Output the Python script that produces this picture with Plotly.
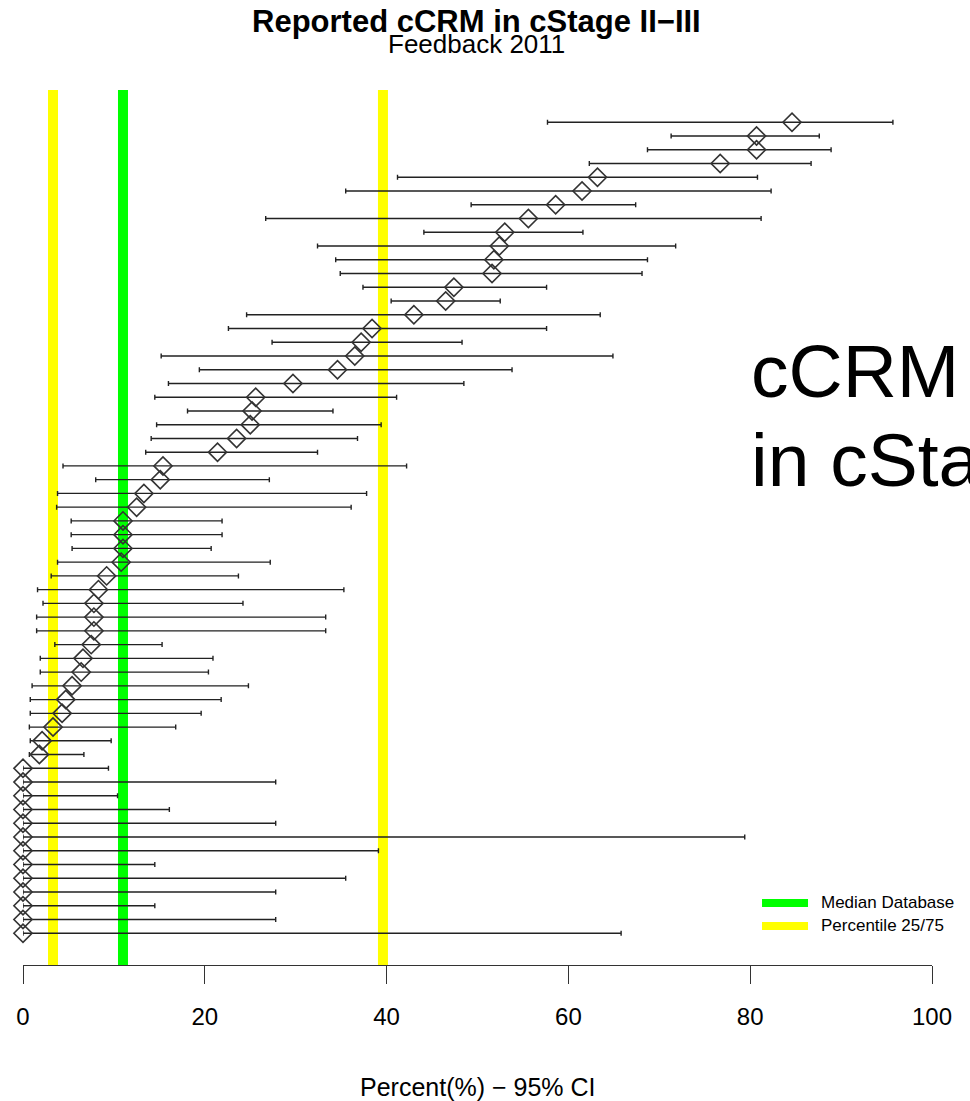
import plotly.graph_objects as go

# ---- data ----
estimate = [84.6, 80.7, 80.7, 76.7, 63.2, 61.5, 58.6, 55.6, 53.0, 52.4,
            51.8, 51.6, 47.4, 46.5, 43.0, 38.4, 37.2, 36.5, 34.6, 29.7,
            25.6, 25.2, 25.0, 23.5, 21.4, 15.4, 15.1, 13.3, 12.5, 11.0,
            11.0, 11.0, 10.8, 9.2, 8.3, 7.8, 7.8, 7.8, 7.5, 6.6,
            6.4, 5.4, 4.7, 4.3, 3.3, 2.1, 1.8, 0, 0, 0,
            0, 0, 0, 0, 0, 0, 0, 0, 0, 0]
ci_low = [57.7, 71.3, 68.7, 62.3, 41.2, 35.5, 49.3, 26.7, 44.1, 32.4,
          34.4, 34.9, 37.4, 40.5, 24.6, 22.6, 27.4, 15.2, 19.4, 16.0,
          14.5, 18.1, 14.7, 14.1, 13.5, 4.4, 8.0, 3.8, 3.7, 5.3,
          5.3, 5.4, 3.8, 3.1, 1.6, 2.2, 1.5, 1.5, 3.5, 1.9,
          1.9, 1.0, 0.8, 0.8, 0.7, 0.8, 0.7, 0, 0, 0,
          0, 0, 0, 0, 0, 0, 0, 0, 0, 0]
ci_high = [95.7, 87.6, 88.9, 86.7, 80.8, 82.3, 67.4, 81.2, 61.6, 71.8,
           68.7, 68.1, 57.6, 52.5, 63.5, 57.6, 48.3, 64.9, 53.8, 48.5,
           41.1, 34.1, 39.4, 36.8, 32.4, 42.2, 27.1, 37.8, 36.1, 21.9,
           21.9, 20.7, 27.2, 23.7, 35.3, 24.2, 33.3, 33.3, 15.3, 20.9,
           20.4, 24.8, 21.8, 19.6, 16.8, 9.7, 6.7, 9.4, 27.8, 10.4,
           16.1, 27.8, 79.4, 39.1, 14.5, 35.5, 27.8, 14.5, 27.8, 65.8]
median_db = 11.0
percentiles = [3.3, 39.6]
x_ticks = [0, 20, 40, 60, 80, 100]

rows = list(range(1, len(estimate) + 1))
err_plus = [h - e for h, e in zip(ci_high, estimate)]
err_minus = [e - l for e, l in zip(estimate, ci_low)]

FONT = "Liberation Sans, Arial, Helvetica, sans-serif"

fig = go.Figure()
fig.add_trace(go.Scatter(
    x=estimate, y=rows, mode="markers",
    marker=dict(symbol="diamond-open", size=14, color="#333333",
                line=dict(width=1.6, color="#333333")),
    error_x=dict(type="data", symmetric=False, array=err_plus,
                 arrayminus=err_minus, color="#222222", thickness=1.4, width=2.5),
    cliponaxis=False, showlegend=False, hoverinfo="skip",
))

shapes = []
for p in percentiles:
    shapes.append(dict(type="line", xref="x", yref="paper", x0=p, x1=p, y0=0, y1=1,
                       line=dict(color="#FFFF00", width=10), layer="below"))
shapes.append(dict(type="line", xref="x", yref="paper", x0=median_db, x1=median_db,
                   y0=0, y1=1, line=dict(color="#00FF00", width=10), layer="below"))
# legend swatches
shapes.append(dict(type="line", xref="paper", yref="paper", x0=0.813, x1=0.8636,
                   y0=0.0709, y1=0.0709, line=dict(color="#00FF00", width=8)))
shapes.append(dict(type="line", xref="paper", yref="paper", x0=0.813, x1=0.8636,
                   y0=0.0446, y1=0.0446, line=dict(color="#FFFF00", width=8)))

annotations = [
    dict(text="<b>Reported cCRM in cStage II\u2212III</b>", xref="paper", yref="paper",
         x=0.4994, y=1.0783, xanchor="center", yanchor="middle", showarrow=False,
         font=dict(family=FONT, size=31, color="#000000")),
    dict(text="Feedback 2011", xref="paper", yref="paper",
         x=0.4994, y=1.0523, xanchor="center", yanchor="middle", showarrow=False,
         font=dict(family=FONT, size=26, color="#000000")),
    dict(text="cCRM", xref="paper", yref="paper", x=0.799, y=0.6794,
         xanchor="left", yanchor="middle", showarrow=False,
         font=dict(family=FONT, size=75, color="#000000")),
    dict(text="in cStage II\u2212III", xref="paper", yref="paper", x=0.799, y=0.577,
         xanchor="left", yanchor="middle", showarrow=False,
         font=dict(family=FONT, size=75, color="#000000")),
    dict(text="Median Database", xref="paper", yref="paper", x=0.876, y=0.0709,
         xanchor="left", yanchor="middle", showarrow=False,
         font=dict(family=FONT, size=17, color="#000000")),
    dict(text="Percentile 25/75", xref="paper", yref="paper", x=0.876, y=0.0446,
         xanchor="left", yanchor="middle", showarrow=False,
         font=dict(family=FONT, size=17, color="#000000")),
    dict(text="Percent(%) \u2212 95% CI", xref="paper", yref="paper",
         x=0.5006, y=-0.1394, xanchor="center", yanchor="middle", showarrow=False,
         font=dict(family=FONT, size=25, color="#000000")),
]

fig.update_layout(
    width=970, height=1101,
    margin=dict(l=23, r=38, t=90, b=136, pad=0, autoexpand=False),
    paper_bgcolor="white", plot_bgcolor="white",
    shapes=shapes, annotations=annotations,
    xaxis=dict(range=[0, 100], tickvals=x_ticks, ticktext=[str(t) for t in x_ticks],
               showgrid=False, zeroline=False, showline=True, linecolor="#333333",
               linewidth=1.3, ticks="outside", ticklen=18, tickwidth=1.3,
               tickcolor="#333333", ticklabelstandoff=12, automargin=False,
               tickfont=dict(family=FONT, size=24, color="#000000")),
    yaxis=dict(range=[62.31, -1.35], visible=False, showgrid=False, zeroline=False,
               automargin=False),
)

fig.write_html("out.html")
